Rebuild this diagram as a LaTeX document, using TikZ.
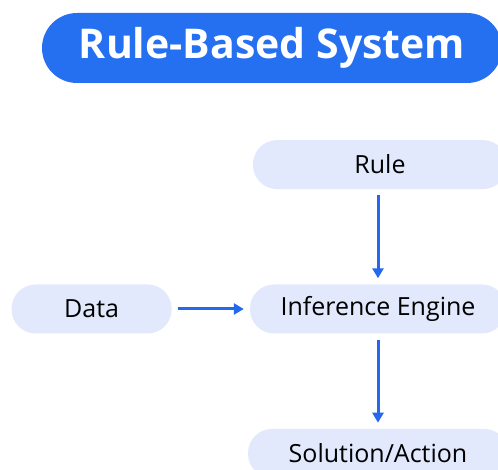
\documentclass[tikz,border=0pt]{standalone}
\usepackage{fontspec}
\setmainfont{Open Sans}
\usepackage{xcolor}
\usepackage{tikz}
\usetikzlibrary{positioning, arrows.meta}

\definecolor{titleblue}{HTML}{2570F0}
\definecolor{boxfill}{HTML}{E3E9FC}
\definecolor{arrowblue}{HTML}{2468EE}

\begin{document}
\begin{tikzpicture}[
    x=1pt, y=1pt,
    node distance=95pt and 78pt,
    block/.style={rectangle, fill=boxfill, rounded corners=24pt, align=center, minimum height=49pt, minimum width=256pt, font=\fontsize{25}{28}\selectfont},
    title/.style={rectangle, fill=titleblue, rounded corners=35pt, align=center, minimum height=70pt, minimum width=460pt, text=white, font=\fontsize{41}{46}\selectfont\bfseries},
    arrow/.style={-{Triangle[length=10pt, width=11pt]}, line width=3pt, draw=arrowblue, shorten <=6pt, shorten >=6pt}
]
    \useasboundingbox (0,0) rectangle (498,470);
    \clip (0,0) rectangle (498,470);

    \node [title] (heading) at (272,422) {Rule-Based System};

    \node [block] (engine) at (378,161) {Inference Engine};
    \node [block, above=of engine, minimum width=254pt, xshift=2pt] (rule) {Rule};
    \node [block, left=of engine, minimum width=160pt] (data) {Data};
    \node [block, below=of engine, minimum width=260pt] (solution) {Solution/Action};

    \draw [arrow] (rule.south -| engine) -- (engine);
    \draw [arrow] (data) -- (engine);
    \draw [arrow] (engine) -- (solution);
\end{tikzpicture}
\end{document}
